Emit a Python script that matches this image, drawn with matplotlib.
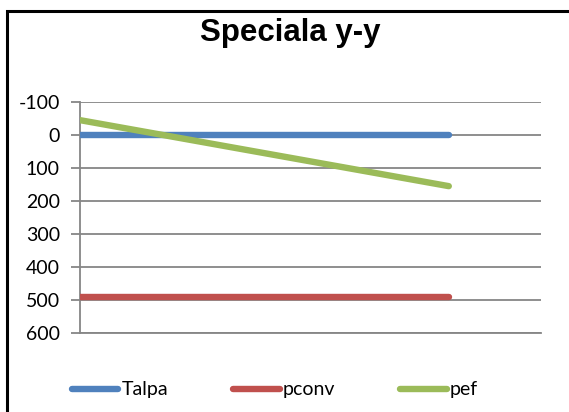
import matplotlib
matplotlib.use('Agg')
from matplotlib import pyplot as plt
from matplotlib.patches import Rectangle

# series: two points each (start, end)
x_vals = [0, 4]
talpa = [0, 0]
pconv = [490, 490]
pef = [-45, 155]

series = [
    ('Talpa', talpa, '#4F81BD'),
    ('pconv', pconv, '#C0504D'),
    ('pef', pef, '#9BBB59'),
]
y_ticks = [-100, 0, 100, 200, 300, 400, 500, 600]

plt.rcParams['font.family'] = ['Lato', 'DejaVu Sans']

fig = plt.figure(figsize=(5.69, 4.12), dpi=100)
ax = fig.add_axes([80 / 569, 1 - 333 / 412, (541 - 80) / 569, (333 - 102) / 412])

for name, vals, color in series:
    ax.plot(x_vals, vals, color=color, lw=4.6, solid_capstyle='round', label=name, zorder=3)

ax.set_xlim(0, 5)
ax.set_ylim(600, -100)
ax.set_yticks(y_ticks)
ax.set_yticklabels([str(v) for v in y_ticks])
ax.set_xticks([])
ax.grid(axis='y', color='#868686', lw=1.3)

for side in ['top', 'right']:
    ax.spines[side].set_visible(False)
ax.spines['left'].set_color('#868686')
ax.spines['left'].set_linewidth(1.3)
ax.spines['bottom'].set_color('#868686')
ax.spines['bottom'].set_linewidth(1.3)
ax.tick_params(axis='y', length=6.5, width=1.3, color='#868686', pad=8, labelsize=14)

fig.text(290 / 569, 1 - 33 / 412, 'Speciala y-y', ha='center', va='center',
         fontsize=22.5, fontweight='bold', family=['Liberation Sans', 'DejaVu Sans'])

fig.legend(loc='center left', bbox_to_anchor=(62 / 569, 1 - 390 / 412), ncol=3,
           frameon=False, fontsize=14, handlelength=2.4, handletextpad=0.15,
           columnspacing=3.35, borderpad=0)

# outer chart border (only top and left inside the image)
fig.patches.append(Rectangle((6.5 / 569, -0.1), 1.2, 1 - 10.5 / 412 + 0.1,
                             transform=fig.transFigure, fill=False,
                             edgecolor='black', lw=2.2))

fig.savefig('out.png', dpi=100)
